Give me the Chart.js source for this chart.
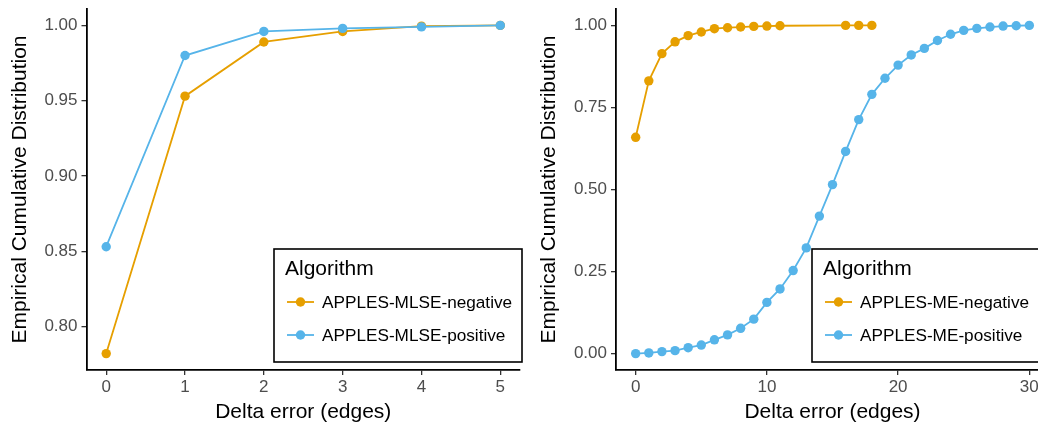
<!DOCTYPE html>
<html>
<head>
<meta charset="utf-8">
<script src="https://cdn.jsdelivr.net/npm/chart.js@4"></script>
<style>
  html, body { margin: 0; padding: 0; background: #fff; }
  #wrap { position: relative; width: 1038px; height: 425px; overflow: hidden; }
  #c1 { position: absolute; left: 0; top: 0; }
  #c2 { position: absolute; left: 520px; top: 0; }
</style>
</head>
<body>
<div id="wrap">
  <canvas id="c1" width="530" height="425"></canvas>
  <canvas id="c2" width="540" height="425"></canvas>
</div>
<script>
// left panel: APPLES MLSE
var mlseX = [0, 1, 2, 3, 4, 5];
var mlseNeg = [0.782, 0.953, 0.989, 0.996, 0.9995, 1.0];
var mlsePos = [0.853, 0.980, 0.996, 0.998, 0.999, 1.0];

// right panel: APPLES ME
var meNegX = [0, 1, 2, 3, 4, 5, 6, 7, 8, 9, 10, 11, 16, 17, 18];
var meNeg = [0.659, 0.831, 0.914, 0.950, 0.969, 0.980, 0.990, 0.993, 0.995, 0.997, 0.998, 0.999, 1.0, 1.0, 1.0];
var mePosX = [0, 1, 2, 3, 4, 5, 6, 7, 8, 9, 10, 11, 12, 13, 14, 15, 16, 17, 18, 19, 20, 21, 22, 23, 24, 25, 26, 27, 28, 29, 30];
var mePos = [0.000, 0.002, 0.006, 0.009, 0.018, 0.026, 0.042, 0.057, 0.077, 0.105, 0.156, 0.197, 0.253, 0.322, 0.419,
             0.515, 0.616, 0.713, 0.790, 0.839, 0.879, 0.910, 0.930, 0.954, 0.973, 0.985, 0.991, 0.995, 0.998, 0.999, 1.0];

var leftTicksY = [0.80, 0.85, 0.90, 0.95, 1.00];
var rightTicksY = [0.00, 0.25, 0.50, 0.75, 1.00];

var ORANGE = '#E69F00';
var BLUE = '#56B4E9';
var FONT = "'Liberation Sans', Arial, sans-serif";

function pts(xs, ys) {
  return xs.map(function (x, i) { return { x: x, y: ys[i] }; });
}

function series(label, xs, ys, color, order) {
  return {
    label: label,
    data: pts(xs, ys),
    borderColor: color,
    backgroundColor: color,
    pointBackgroundColor: color,
    pointBorderColor: color,
    pointRadius: 4.7,
    pointBorderWidth: 0,
    borderWidth: 1.8,
    tension: 0,
    order: order
  };
}

// legend box drawn inside the plot, ggplot style
var boxLegend = {
  id: 'boxLegend',
  afterDraw: function (chart) {
    var o = chart.options.plugins.boxLegend;
    if (!o) return;
    var ctx = chart.ctx;
    ctx.save();
    ctx.fillStyle = '#fff';
    ctx.fillRect(o.x, o.y, o.w, o.h);
    ctx.strokeStyle = '#000';
    ctx.lineWidth = 1.6;
    ctx.strokeRect(o.x, o.y, o.w, o.h);
    ctx.fillStyle = '#000';
    ctx.textBaseline = 'alphabetic';
    ctx.font = '21px ' + FONT;
    ctx.fillText(o.title, o.x + 11, o.y + 26);
    var rows = [o.y + 53, o.y + 86];
    chart.data.datasets.forEach(function (ds, i) {
      var cy = rows[i];
      ctx.strokeStyle = ds.borderColor;
      ctx.lineWidth = 1.8;
      ctx.beginPath();
      ctx.moveTo(o.x + 13, cy);
      ctx.lineTo(o.x + 40, cy);
      ctx.stroke();
      ctx.fillStyle = ds.borderColor;
      ctx.beginPath();
      ctx.arc(o.x + 26.5, cy, 4.7, 0, Math.PI * 2);
      ctx.fill();
      ctx.fillStyle = '#000';
      ctx.font = '17.2px ' + FONT;
      ctx.textBaseline = 'middle';
      ctx.fillText(ds.label, o.x + 48, cy + 1);
    });
    ctx.restore();
  }
};

function makeOptions(p) {
  return {
    responsive: false,
    animation: false,
    layout: { autoPadding: false, padding: { left: 0, right: p.padRight, top: 9, bottom: 0 } },
    plugins: {
      legend: { display: false },
      tooltip: { enabled: false },
      boxLegend: p.legend
    },
    scales: {
      x: {
        type: 'linear',
        min: p.xMin, max: p.xMax,
        afterFit: function (s) { s.height = 55; s.paddingLeft = 0; s.paddingRight = 0; },
        afterBuildTicks: function (s) { s.ticks = p.xTicks.map(function (v) { return { value: v }; }); },
        border: { display: true, color: '#000', width: 1.8 },
        grid: { display: true, drawOnChartArea: false, drawTicks: true, tickLength: 5, color: '#333', lineWidth: 1.3 },
        ticks: { color: '#4D4D4D', font: { family: FONT, size: 17 }, padding: 2, maxRotation: 0 },
        title: { display: true, text: 'Delta error (edges)', color: '#000', font: { family: FONT, size: 21 }, padding: { top: 0, bottom: 0 } }
      },
      y: {
        type: 'linear',
        min: p.yMin, max: p.yMax,
        afterFit: function (s) { s.width = p.yWidth; s.paddingTop = 0; s.paddingBottom = 0; },
        afterBuildTicks: function (s) { s.ticks = p.yTicks.map(function (v) { return { value: v }; }); },
        border: { display: true, color: '#000', width: 1.8 },
        grid: { display: true, drawOnChartArea: false, drawTicks: true, tickLength: 5, color: '#333', lineWidth: 1.3 },
        ticks: { color: '#4D4D4D', font: { family: FONT, size: 17 }, padding: 4,
                 callback: function (v) { return Number(v).toFixed(2); } },
        title: { display: true, text: 'Empirical Cumulative Distribution', color: '#000', font: { family: FONT, size: 21 }, padding: { top: p.titlePad, bottom: 0 } }
      }
    }
  };
}

new Chart(document.getElementById('c1').getContext('2d'), {
  type: 'line',
  data: {
    datasets: [
      series('APPLES-MLSE-negative', mlseX, mlseNeg, ORANGE, 1),
      series('APPLES-MLSE-positive', mlseX, mlsePos, BLUE, 0)
    ]
  },
  options: makeOptions({
    padRight: 10, yWidth: 86.5, titlePad: 7.5,
    xMin: -0.25, xMax: 5.25, xTicks: mlseX,
    yMin: 0.7711, yMax: 1.0109, yTicks: leftTicksY,
    legend: { x: 274, y: 249, w: 248, h: 113, title: 'Algorithm' }
  }),
  plugins: [boxLegend]
});

new Chart(document.getElementById('c2').getContext('2d'), {
  type: 'line',
  data: {
    datasets: [
      series('APPLES-ME-negative', meNegX, meNeg, ORANGE, 1),
      series('APPLES-ME-positive', mePosX, mePos, BLUE, 0)
    ]
  },
  options: makeOptions({
    padRight: 11, yWidth: 96, titlePad: 16.5,
    xMin: -1.5, xMax: 31.5, xTicks: [0, 10, 20, 30],
    yMin: -0.05, yMax: 1.05, yTicks: rightTicksY,
    legend: { x: 292, y: 249, w: 228, h: 113, title: 'Algorithm' }
  }),
  plugins: [boxLegend]
});
</script>
</body>
</html>
